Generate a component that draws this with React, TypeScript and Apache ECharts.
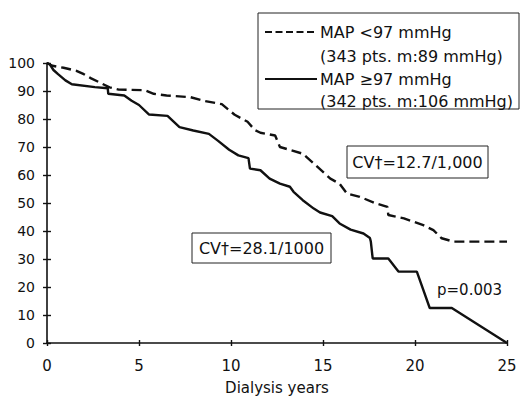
import { useEffect, useRef } from "react";
import * as echarts from "echarts";

// Kaplan-Meier style survival curves
const lowMapYears = [0, 0.3, 0.9, 1.6, 2.0, 2.4, 3.0, 3.4, 3.9, 5.3, 5.8, 6.5, 7.8, 8.6, 9.5, 10.2, 10.9, 11.3, 11.6, 12.4, 12.66, 13.9, 14.5, 15.4, 15.9, 16.3, 17.0, 17.9, 18.5, 18.55, 19.4, 20.45, 21.0, 21.45, 22.1, 25];
const lowMapSurvival = [100, 99, 98.3, 97.2, 96, 94.5, 92.6, 91.3, 90.5, 90.3, 89, 88.4, 87.8, 86.4, 85.3, 81.5, 79, 76, 75.1, 74.1, 70, 67.6, 64.1, 58.7, 56.9, 53.4, 52.2, 49.8, 48.6, 45.7, 44.5, 42.1, 40.3, 37.4, 36.2, 36.2];

const highMapYears = [0, 0.15, 0.35, 0.6, 1.0, 1.35, 2.6, 3.3, 3.33, 4.2, 4.6, 5.0, 5.55, 6.55, 7.2, 7.95, 8.8, 9.3, 9.9, 10.4, 10.95, 11.03, 11.6, 12.1, 12.66, 13.2, 13.4, 13.9, 14.5, 14.84, 15.5, 15.9, 16.5, 17.2, 17.55, 17.6, 17.7, 18.55, 19.1, 20.1, 20.8, 22.0, 25];
const highMapSurvival = [100, 99.5, 97.5, 96, 93.8, 92.4, 91.4, 91, 89, 88.4, 86.5, 85, 81.6, 81.1, 77.1, 75.9, 74.7, 72.2, 69, 67, 66, 62.3, 61.7, 58.7, 56.9, 55.8, 54, 51, 48, 46.6, 45.3, 42.7, 40.5, 39.1, 37.5, 36.2, 30.2, 30.2, 25.5, 25.5, 12.5, 12.5, 0];

const legendLabels = ["MAP <97 mmHg", "(343 pts. m:89 mmHg)", "MAP \u226597 mmHg", "(342 pts. m:106 mmHg)"];
const cvLow = "CV\u2020=12.7/1,000";
const cvHigh = "CV\u2020=28.1/1000";
const pText = "p=0.003";
const xName = "Dialysis years";

const FONT = "DejaVu Sans";

export default function App() {
  const ref = useRef<HTMLDivElement>(null);
  useEffect(() => {
    if (!ref.current) return;
    const chart = echarts.init(ref.current, null, { renderer: "svg" });
    const low = lowMapYears.map((x, i) => [x, lowMapSurvival[i]]);
    const high = highMapYears.map((x, i) => [x, highMapSurvival[i]]);
    const axisLine = { show: true, onZero: false, lineStyle: { color: "#111", width: 1.6 } };
    chart.setOption({
      animation: false,
      backgroundColor: "#fff",
      grid: { left: 47, right: 14, top: 63, bottom: 60 },
      xAxis: [
        {
          type: "value", min: 0, max: 25, interval: 5,
          axisLine,
          axisTick: { show: true, length: 3, lineStyle: { color: "#111", width: 1.4 } },
          axisLabel: { color: "#111", fontFamily: FONT, fontSize: 15, margin: 15 },
          splitLine: { show: false },
          name: xName, nameLocation: "middle", nameGap: 37,
          nameTextStyle: { color: "#111", fontFamily: FONT, fontSize: 15 },
        },
        {
          type: "value", min: 0, max: 25, interval: 5, position: "bottom",
          axisLine: { show: false },
          axisTick: { show: true, inside: true, length: 3, lineStyle: { color: "#111", width: 1.4 } },
          axisLabel: { show: false },
          splitLine: { show: false },
        },
      ],
      yAxis: [
        {
          type: "value", min: 0, max: 100, interval: 10,
          axisLine,
          axisTick: { show: true, length: 4, lineStyle: { color: "#111", width: 1.4 } },
          axisLabel: { color: "#111", fontFamily: FONT, fontSize: 14, margin: 12 },
          splitLine: { show: false },
        },
        {
          type: "value", min: 0, max: 100, interval: 10, position: "left",
          axisLine: { show: false },
          axisTick: { show: true, inside: true, length: 4, lineStyle: { color: "#111", width: 1.4 } },
          axisLabel: { show: false },
          splitLine: { show: false },
        },
      ],
      series: [
        {
          name: legendLabels[0], type: "line", data: low, symbol: "none",
          lineStyle: { color: "#111", width: 2.4, type: [10, 5] },
        },
        {
          name: legendLabels[2], type: "line", data: high, symbol: "none",
          lineStyle: { color: "#111", width: 2.4 },
        },
      ],
      graphic: [
        { type: "rect", shape: { x: 258, y: 13, width: 261, height: 96 }, style: { fill: "#fff", stroke: "#222", lineWidth: 1 }, z: 10 },
        { type: "line", shape: { x1: 265, y1: 32, x2: 317, y2: 32 }, style: { stroke: "#111", lineWidth: 2, lineDash: [7, 3.5] }, z: 11 },
        { type: "line", shape: { x1: 265, y1: 79, x2: 317, y2: 79 }, style: { stroke: "#111", lineWidth: 2 }, z: 11 },
        { type: "text", x: 320, y: 32, style: { text: legendLabels[0], fill: "#111", font: `16px "${FONT}"`, verticalAlign: "middle" }, z: 11 },
        { type: "text", x: 320, y: 56, style: { text: legendLabels[1], fill: "#111", font: `16px "${FONT}"`, verticalAlign: "middle" }, z: 11 },
        { type: "text", x: 320, y: 79, style: { text: legendLabels[2], fill: "#111", font: `16px "${FONT}"`, verticalAlign: "middle" }, z: 11 },
        { type: "text", x: 320, y: 101, style: { text: legendLabels[3], fill: "#111", font: `16px "${FONT}"`, verticalAlign: "middle" }, z: 11 },
        { type: "rect", shape: { x: 347, y: 146, width: 141, height: 32 }, style: { fill: "#fff", stroke: "#222", lineWidth: 1 }, z: 10 },
        { type: "text", x: 417.5, y: 162, style: { text: cvLow, fill: "#111", font: `16px "${FONT}"`, align: "center", verticalAlign: "middle" }, z: 11 },
        { type: "rect", shape: { x: 192, y: 233, width: 139, height: 30 }, style: { fill: "#fff", stroke: "#222", lineWidth: 1 }, z: 10 },
        { type: "text", x: 261.5, y: 248, style: { text: cvHigh, fill: "#111", font: `16px "${FONT}"`, align: "center", verticalAlign: "middle" }, z: 11 },
        { type: "text", x: 437, y: 290, style: { text: pText, fill: "#111", font: `15px "${FONT}"`, verticalAlign: "middle" }, z: 11 },
      ],
    });
    return () => chart.dispose();
  }, []);
  return <div ref={ref} style={{ position: "fixed", left: 0, top: 0, width: 521, height: 403 }} />;
}
